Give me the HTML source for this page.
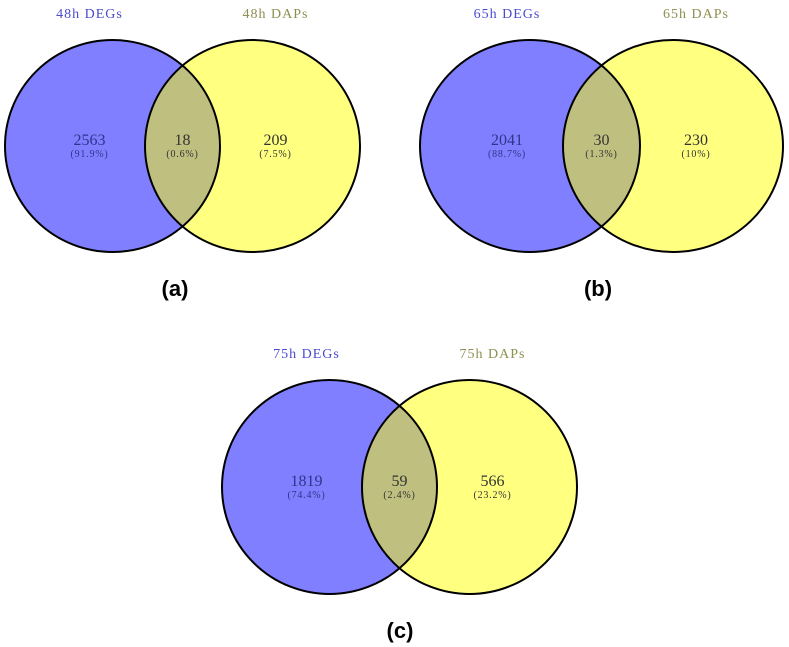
<!DOCTYPE html>
<html><head><meta charset="utf-8"><style>
html,body{margin:0;padding:0;background:#fff;}
svg{display:block;}
</style></head><body>
<svg id="chart" width="789" height="647" xmlns="http://www.w3.org/2000/svg"></svg>
<script>
const panelLabels = ["(a)", "(b)", "(c)"];
const setATitles = ["48h DEGs", "65h DEGs", "75h DEGs"];
const setBTitles = ["48h DAPs", "65h DAPs", "75h DAPs"];
const onlyA = [2563, 2041, 1819];
const both = [18, 30, 59];
const onlyB = [209, 230, 566];
const pctOnlyA = ["91.9%", "88.7%", "74.4%"];
const pctBoth = ["0.6%", "1.3%", "2.4%"];
const pctOnlyB = ["7.5%", "10%", "23.2%"];

const svg = document.getElementById('chart');
const NS = 'http://www.w3.org/2000/svg';
const layout = [
  {cxA:112.5, cxB:252.5, cy:146, rx:107.5, ry:106, ty:18, ly:296, lx:175},
  {cxA:530, cxB:673, cy:146, rx:110, ry:106, ty:18, ly:296, lx:598},
  {cxA:329.5, cxB:469.5, cy:487, rx:107.5, ry:107, ty:358, ly:638, lx:400}
];
function mk(tag, attrs, parent){
  const e = document.createElementNS(NS, tag);
  for (const k in attrs) e.setAttribute(k, attrs[k]);
  (parent||svg).appendChild(e);
  return e;
}
function txt(parent, x, y, s, size, fill, weight, family, ls){
  const t = mk('text', {x:x, y:y, 'text-anchor':'middle', 'font-size':size, fill:fill,
    'font-family': family || '"Liberation Serif", "Noto Serif CJK SC", serif', 'font-weight': weight||'normal',
    'letter-spacing': ls||0}, parent);
  t.textContent = s;
  return t;
}
const defs = mk('defs', {});
for (let i = 0; i < panelLabels.length; i++) {
  const L = layout[i];
  const g = mk('g', {});
  
  
  const cp = mk('clipPath', {id:'clipA'+i}, defs);
  mk('ellipse', {cx:L.cxA, cy:L.cy, rx:L.rx, ry:L.ry}, cp);
  const ca = mk('ellipse', {cx:L.cxA, cy:L.cy, rx:L.rx, ry:L.ry, fill:'#7f7fff'}, g);
  
  
  const cb = mk('ellipse', {cx:L.cxB, cy:L.cy, rx:L.rx, ry:L.ry, fill:'#ffff80'}, g);
  
  
  const ov = mk('ellipse', {cx:L.cxB, cy:L.cy, rx:L.rx, ry:L.ry, fill:'#bfbf80', 'clip-path':'url(#clipA'+i+')'}, g);
  
  
  mk('ellipse', {cx:L.cxA, cy:L.cy, rx:L.rx, ry:L.ry, fill:'none', stroke:'#000', 'stroke-width':2}, g);
  mk('ellipse', {cx:L.cxB, cy:L.cy, rx:L.rx, ry:L.ry, fill:'none', stroke:'#000', 'stroke-width':2}, g);
  const ta = txt(g, L.cxA - 23, L.ty, setATitles[i], 14, '#4b4bd0', null, null, 1);
  
  
  const tb = txt(g, L.cxB + 23, L.ty, setBTitles[i], 14, '#8f8f50', null, null, 1);
  
  
  const ovMid = (L.cxB - L.rx + L.cxA + L.rx) / 2;
  const xa = L.cxA - 23;
  const xb = L.cxB + 23;
  const items = [[xa, onlyA[i], pctOnlyA[i], '#33338a', 'count-only-degs'],
                 [ovMid, both[i], pctBoth[i], '#333', 'count-overlap'],
                 [xb, onlyB[i], pctOnlyB[i], '#333', 'count-only-daps']];
  items.forEach(it => {
    const n = txt(g, it[0], L.cy - 1, String(it[1]), 16, it[3]);
    
    
    const p = txt(g, it[0], L.cy + 11, '(' + it[2] + ')', 10, it[3], null, null, 0.8);
    
    
  });
  const pl = txt(g, L.lx, L.ly, panelLabels[i], 22, '#000', 'bold', '"Liberation Sans", sans-serif');
  
  
}
</script>
</body></html>
